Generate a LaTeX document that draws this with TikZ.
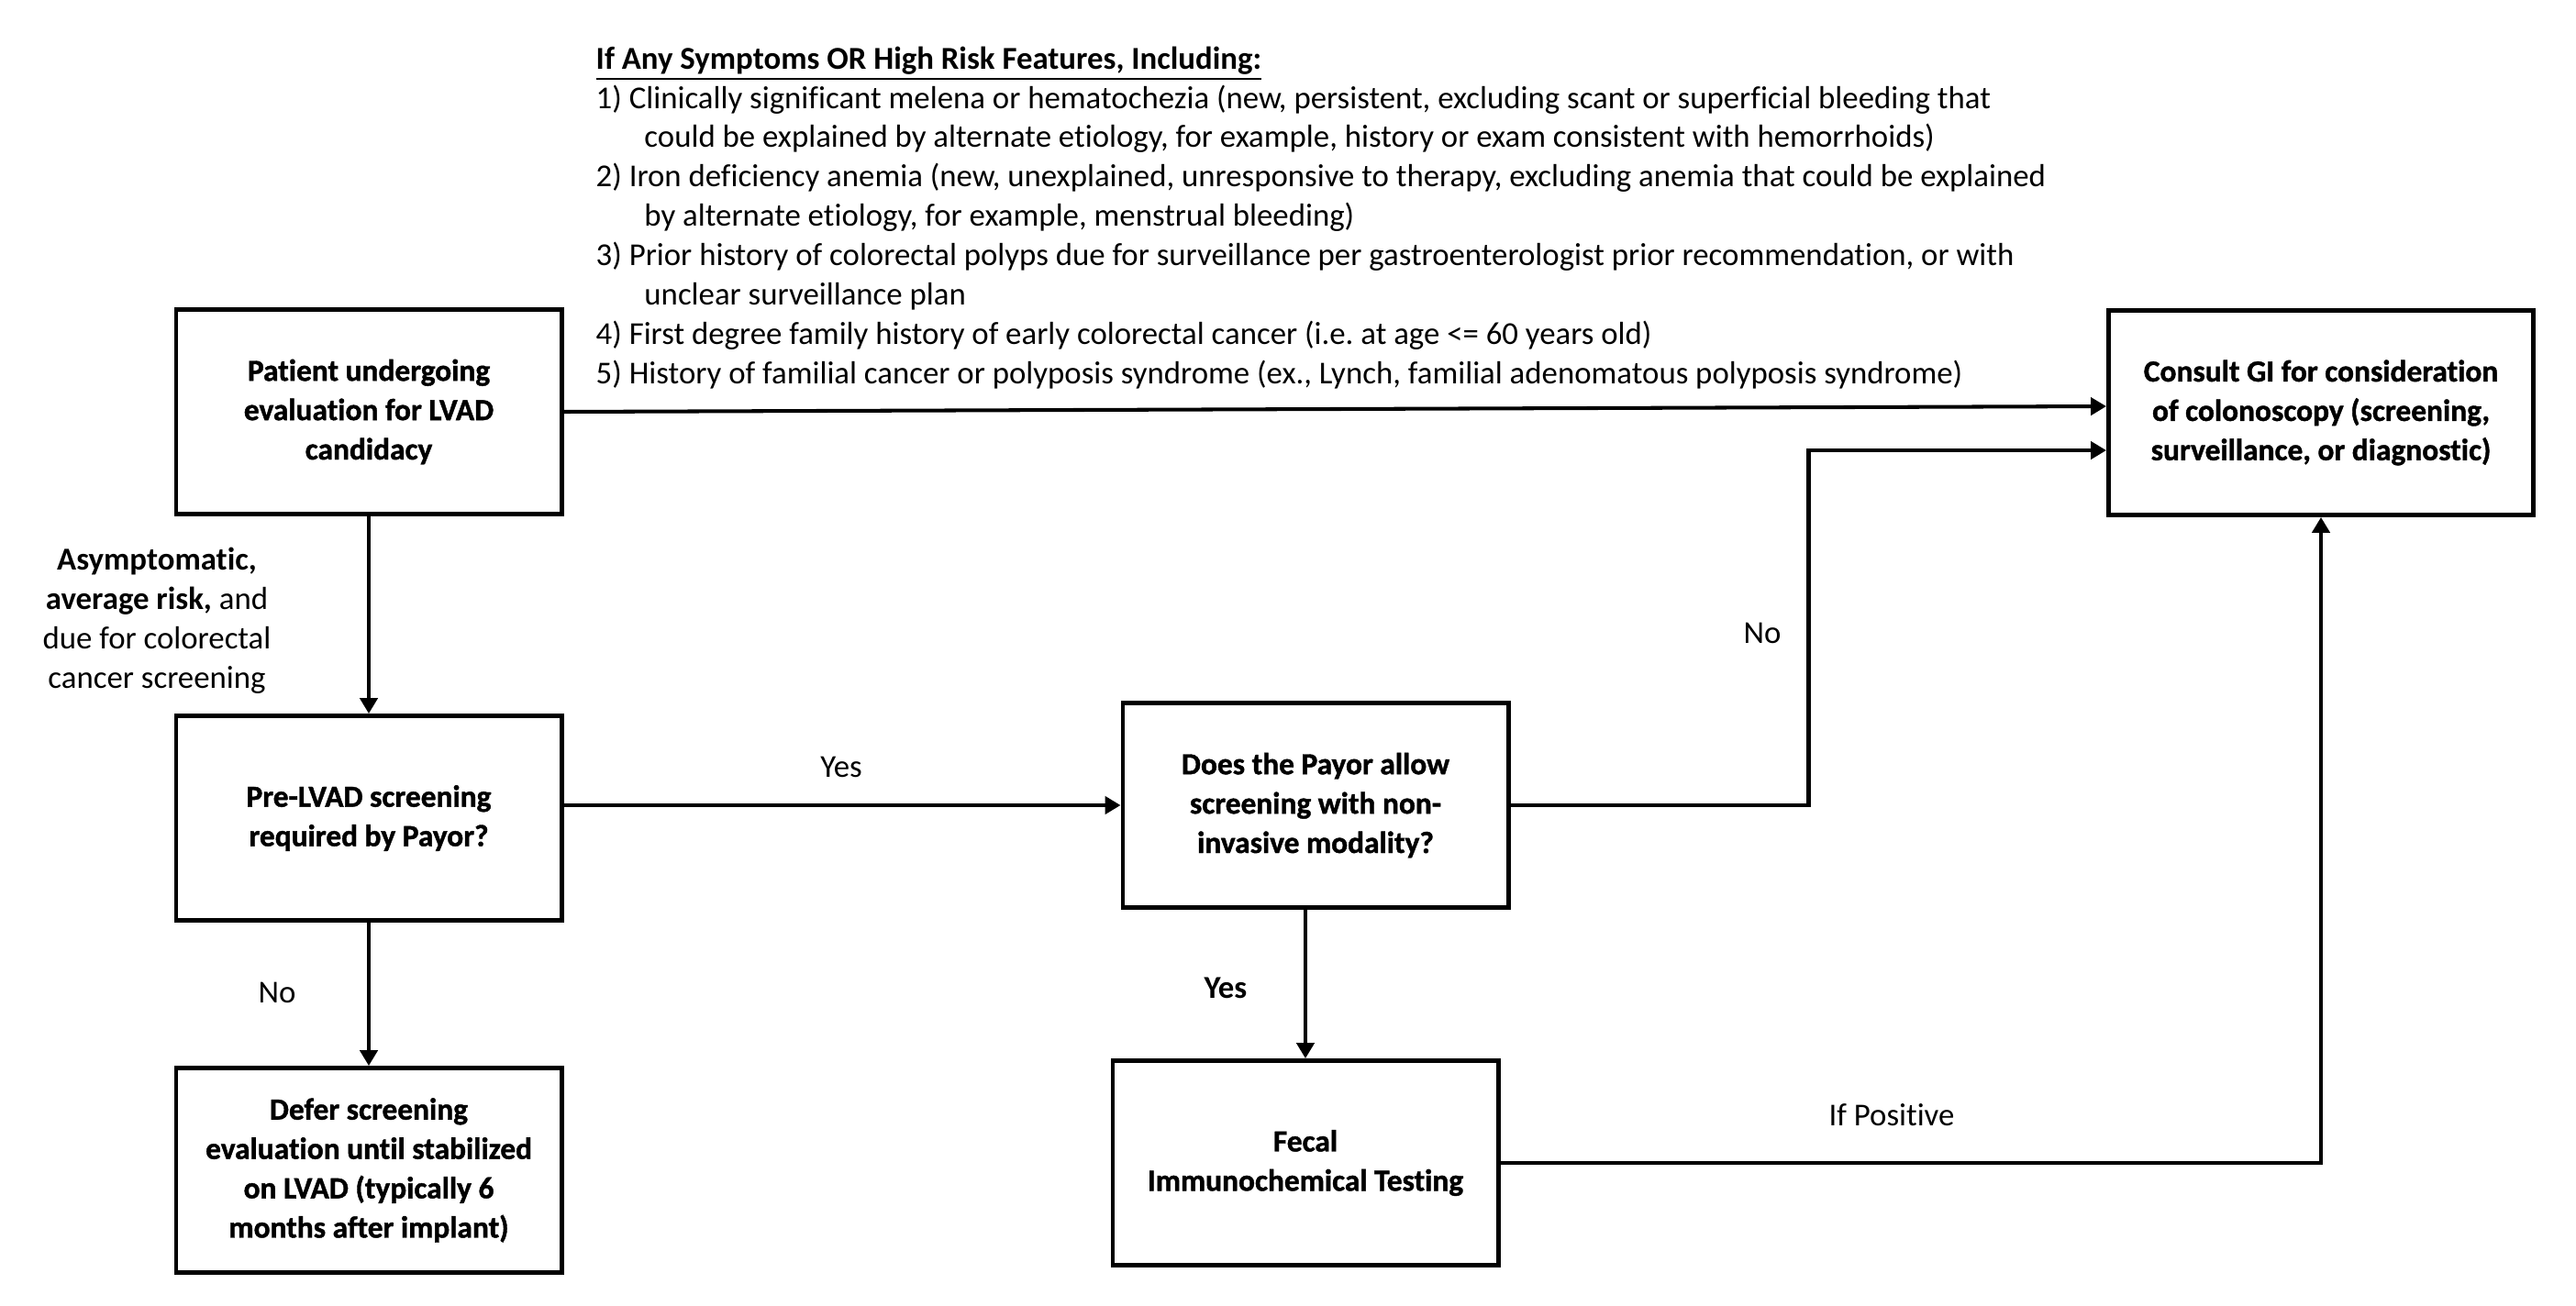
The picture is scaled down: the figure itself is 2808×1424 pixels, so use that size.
\documentclass[tikz,border=0pt]{standalone}
\usepackage{fontspec}
\setmainfont{Carlito}[Ligatures={TeX,NoCommon}]
\newfontfamily\boxfont{Carlito}[Ligatures={TeX,NoCommon},BoldFeatures={FakeBold=1.2}]
\usetikzlibrary{arrows.meta}
\frenchspacing

\begin{document}
\begin{tikzpicture}[x=0.01cm,y=-0.01cm,every node/.style={font=\fontsize{9.9}{12.2}\selectfont}]

	\tikzstyle flow box=[draw, line width=1.35pt, minimum width=4.2cm, minimum height=2.23cm, align=center, inner sep=0pt, font=\fontsize{9.5}{12.2}\selectfont\boxfont\bfseries];
	\tikzstyle flow lines=[line width=1.15pt, -{Triangle[length=4.8pt,width=5.4pt]}];
	\tikzstyle edge labels=[inner sep=0pt, align=center];

	\fill[white] (0,0) rectangle (2808,1424);
	\useasboundingbox (0,0) rectangle (2808,1424);

	% criteria list
	\node[anchor=north west, align=left, inner sep=0pt] (criteria) at (649,50) {\underline{\textbf{If Any Symptoms OR High Risk Features, Including:}}\\
		1) Clinically significant melena or hematochezia (new, persistent, excluding scant or superficial bleeding that\\
		\hspace*{15pt}could be explained by alternate etiology, for example, history or exam consistent with hemorrhoids)\\
		2) Iron deficiency anemia (new, unexplained, unresponsive to therapy, excluding anemia that could be explained\\
		\hspace*{15pt}by alternate etiology, for example, menstrual bleeding)\\
		3) Prior history of colorectal polyps due for surveillance per gastroenterologist prior recommendation, or with\\
		\hspace*{15pt}unclear surveillance plan\\
		4) First degree family history of early colorectal cancer (i.e. at age <= 60 years old)\\
		5) History of familial cancer or polyposis syndrome (ex., Lynch, familial adenomatous polyposis syndrome)};

	% boxes
	\node[flow box] (patient) at (402,449) {Patient undergoing\\evaluation for LVAD\\candidacy};
	\node[flow box] (prelvad) at (402,892) {Pre-LVAD screening\\required by Payor?};
	\node[flow box] (defer) at (402,1276) {Defer screening\\evaluation until stabilized\\on LVAD (typically 6\\months after implant)};
	\node[flow box] (payor) at (1434,878) {Does the Payor allow\\screening with non-\\invasive modality?};
	\node[flow box] (fit) at (1423,1268) {Fecal\\Immunochemical Testing};
	\node[flow box, minimum width=4.63cm] (consult) at (2530,450) {Consult GI for consideration\\of colonoscopy (screening,\\surveillance, or diagnostic)};

	% labels
	\node[edge labels] (asymptomatic) at (171,677) {\textbf{Asymptomatic,}\\\textbf{average risk,} and\\due for colorectal\\cancer screening};
	\foreach \x/\y/\name/\txt in {917/836/yes payor/Yes,302/1082/no defer/No,1921/690/no payor/No,2062/1216/if positive/If Positive}
		\node[edge labels] (\name) at (\x,\y) {\txt};
	\node[edge labels, font=\fontsize{9.9}{12.2}\selectfont\bfseries] (yes fit) at (1336,1077) {Yes};

	% connectors
	\draw[flow lines] (patient.east) -- ([yshift=0.07cm]consult.west);
	\draw[flow lines] (patient.south) -- (prelvad.north);
	\draw[flow lines] (prelvad.south) -- (defer.north);
	\draw[flow lines] (prelvad.east |- payor.west) -- (payor.west);
	\draw[flow lines] (payor.east) -- ++(325,0) |- ([yshift=-0.41cm]consult.west);
	\draw[flow lines] (payor.south -| fit.north) -- (fit.north);
	\draw[flow lines] (fit.east) -| (consult.south);

\end{tikzpicture}
\end{document}
